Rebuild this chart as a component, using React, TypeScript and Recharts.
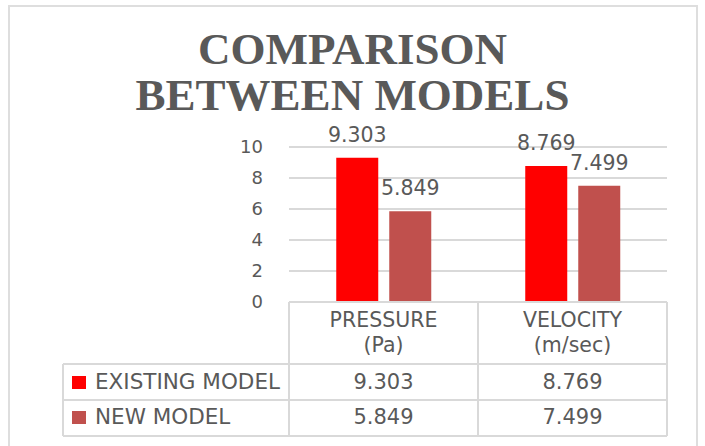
import { BarChart, Bar, XAxis, YAxis, CartesianGrid, LabelList } from "recharts";

const categories = ["PRESSURE", "VELOCITY"];
const units = ["(Pa)", "(m/sec)"];
const seriesNames = ["EXISTING MODEL", "NEW MODEL"];
const existingModel = [9.303, 8.769];
const newModel = [5.849, 7.499];
const yTicks = [0, 2, 4, 6, 8, 10];

const colors = ["#ff0000", "#c0504d"];
const TEXT = "#595959";
const LINE = "#d9d9d9";
const FONT = "'DejaVu Sans', sans-serif";

const W = 705;
const H = 446;
const M = { top: 147, right: 38, bottom: 0, left: 249 };
const Y_W = 40;
const X_H = 144;
const PLOT_W = W - M.left - Y_W - M.right;
const COL_W = PLOT_W / categories.length;
const LEG_X = 63;

const data = categories.map((c, i) => ({
  name: c,
  existing: existingModel[i],
  newer: newModel[i],
}));
const rows = [existingModel, newModel];

function TableTick(props: any) {
  const { x, y, payload } = props;
  const i = payload.index;
  const left = x - COL_W / 2;
  const right = x + COL_W / 2;
  const r0 = y + 62;
  const r1 = y + 98;
  const r2 = y + 134;
  return (
    <g fontFamily={FONT} fill={TEXT}>
      <line x1={left} x2={left} y1={y} y2={r2} stroke={LINE} strokeWidth={2} />
      <line x1={right} x2={right} y1={y} y2={r2} stroke={LINE} strokeWidth={2} />
      <line x1={left} x2={right} y1={r0} y2={r0} stroke={LINE} strokeWidth={2} />
      <line x1={left} x2={right} y1={r1} y2={r1} stroke={LINE} strokeWidth={2} />
      <line x1={left} x2={right} y1={r2} y2={r2} stroke={LINE} strokeWidth={2} />
      <text x={x} y={y + 25} textAnchor="middle" fontSize={20.5}>
        {categories[i]}
      </text>
      <text x={x} y={y + 50} textAnchor="middle" fontSize={20.5}>
        {units[i]}
      </text>
      {rows.map((r, k) => (
        <text key={k} x={x} y={y + 87 + k * 35} textAnchor="middle" fontSize={21}>
          {r[i].toFixed(3)}
        </text>
      ))}
      {i === 0 && (
        <g>
          <line x1={LEG_X} x2={left} y1={r0} y2={r0} stroke={LINE} strokeWidth={2} />
          <line x1={LEG_X} x2={left} y1={r1} y2={r1} stroke={LINE} strokeWidth={2} />
          <line x1={LEG_X} x2={left} y1={r2} y2={r2} stroke={LINE} strokeWidth={2} />
          <line x1={LEG_X} x2={LEG_X} y1={r0} y2={r2} stroke={LINE} strokeWidth={2} />
          {seriesNames.map((s, k) => (
            <g key={s}>
              <rect x={LEG_X + 9} y={y + 74 + k * 35} width={14} height={13} fill={colors[k]} />
              <text x={LEG_X + 32} y={y + 87 + k * 35} fontSize={21.5}>
                {s}
              </text>
            </g>
          ))}
        </g>
      )}
    </g>
  );
}

export default function App() {
  return (
    <div
      style={{
        position: "absolute",
        left: 0,
        top: 0,
        width: W,
        height: H,
        background: "#fff",
        overflow: "hidden",
      }}
    >
      <div
        style={{
          position: "absolute",
          left: 8,
          top: 5,
          width: 686,
          height: 500,
          border: "2px solid #dedede",
        }}
      />
      <div
        style={{
          position: "absolute",
          left: 0,
          top: 26,
          width: W,
          textAlign: "center",
          fontFamily: "'Liberation Serif', serif",
          fontWeight: "bold",
          fontSize: 45,
          lineHeight: "46px",
          color: TEXT,
        }}
      >
        <div>COMPARISON</div>
        <div>BETWEEN MODELS</div>
      </div>
      <div style={{ position: "absolute", left: 0, top: 0 }}>
        <BarChart
          width={W}
          height={H}
          data={data}
          margin={M}
          barCategoryGap="25%"
          barGap={11}
        >
          <CartesianGrid vertical={false} stroke={LINE} strokeWidth={2} />
          <XAxis
            dataKey="name"
            height={X_H}
            interval={0}
            axisLine={{ stroke: LINE, strokeWidth: 2 }}
            tickLine={false}
            tickSize={0}
            tickMargin={0}
            tick={<TableTick />}
          />
          <YAxis
            width={Y_W}
            domain={[0, 10]}
            ticks={yTicks}
            axisLine={false}
            tickLine={false}
            tickSize={0}
            tickMargin={26}
            tick={{ fill: TEXT, fontSize: 18, fontFamily: FONT }}
          />
          <Bar dataKey="existing" fill={colors[0]} isAnimationActive={false}>
            <LabelList
              dataKey="existing"
              position="top"
              offset={16}
              fill={TEXT}
              fontSize={20.5}
              fontFamily={FONT}
              formatter={(v: any) => Number(v).toFixed(3)}
            />
          </Bar>
          <Bar dataKey="newer" fill={colors[1]} isAnimationActive={false}>
            <LabelList
              dataKey="newer"
              position="top"
              offset={16}
              fill={TEXT}
              fontSize={20.5}
              fontFamily={FONT}
              formatter={(v: any) => Number(v).toFixed(3)}
            />
          </Bar>
        </BarChart>
      </div>
    </div>
  );
}
